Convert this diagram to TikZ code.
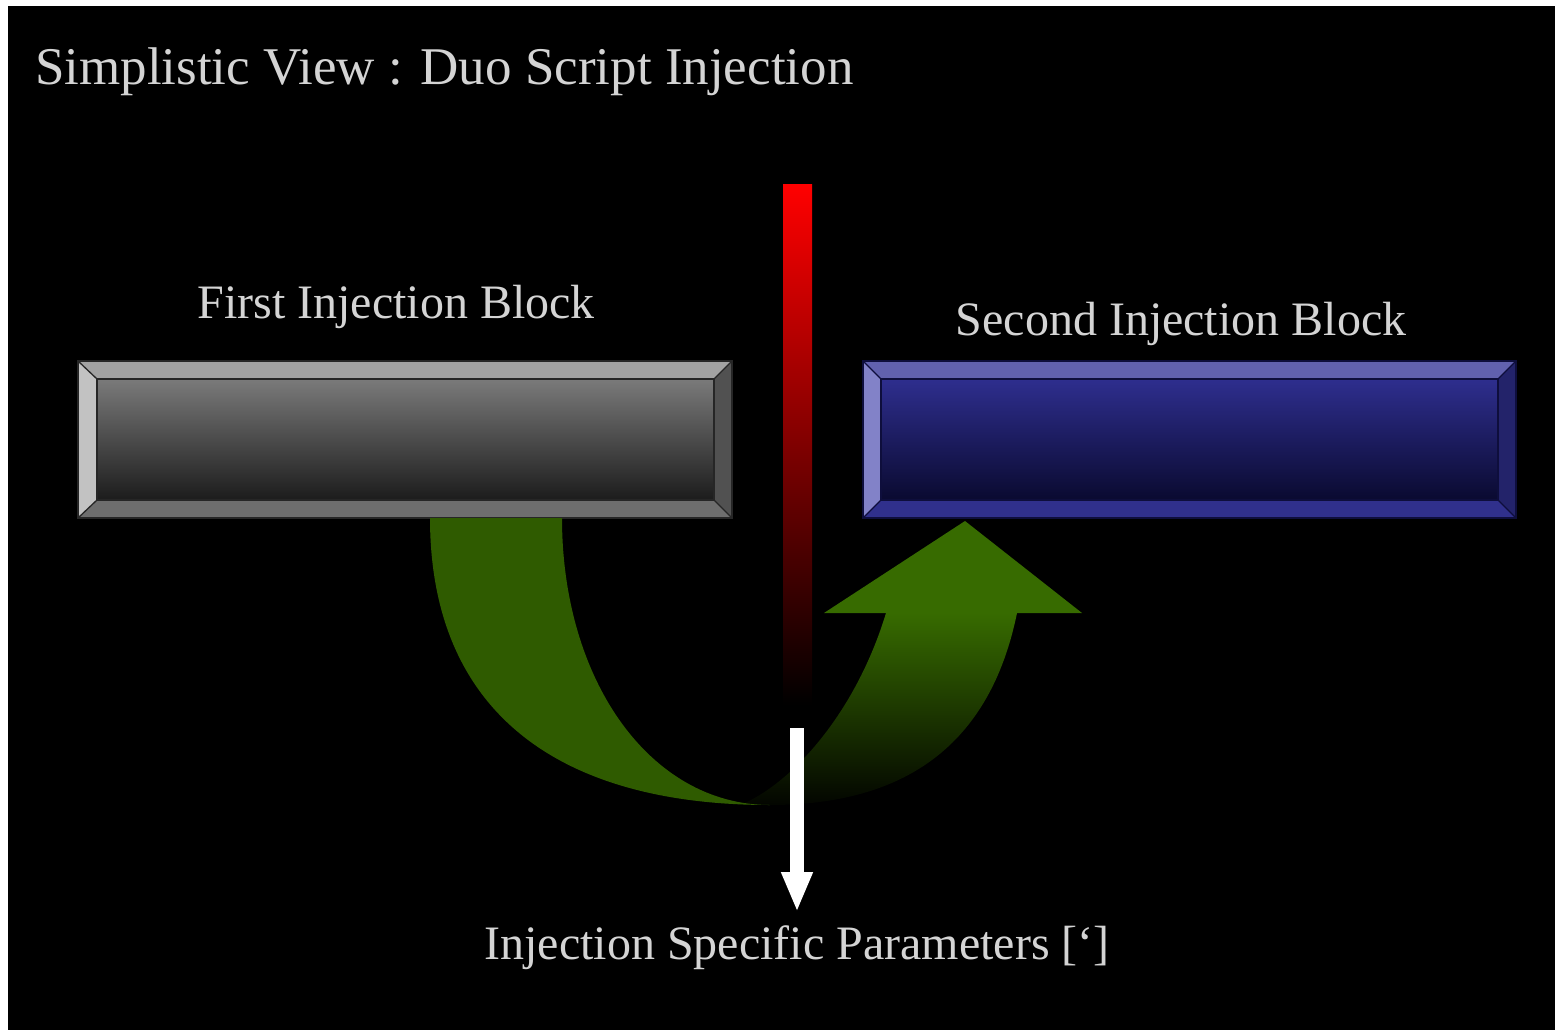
\documentclass[tikz,border=0pt]{standalone}
\usepackage{fontspec}
\setmainfont{Liberation Serif}
\usetikzlibrary{arrows.meta,calc}

\definecolor{txtgray}{HTML}{D4D4D4}
\definecolor{gTop}{HTML}{A2A2A2}
\definecolor{gLeft}{HTML}{C2C2C2}
\definecolor{gRight}{HTML}{515151}
\definecolor{gBottom}{HTML}{6E6E6E}
\definecolor{gInTop}{HTML}{7A7A7A}
\definecolor{gInMid}{HTML}{6A6A6A}
\definecolor{gInBot}{HTML}{1C1C1C}
\definecolor{bTop}{HTML}{6161AE}
\definecolor{bLeft}{HTML}{8282C8}
\definecolor{bRight}{HTML}{23236A}
\definecolor{bBottom}{HTML}{30308C}
\definecolor{bInTop}{HTML}{2E2E8E}
\definecolor{bInMid}{HTML}{272779}
\definecolor{bInBot}{HTML}{0A0A30}
\definecolor{bEdge}{HTML}{0E0E3C}
\definecolor{leafA}{HTML}{2F5B00}
\definecolor{leafB}{HTML}{376B00}
\definecolor{barRed}{HTML}{FF0000}
\definecolor{barMid}{HTML}{A00000}

\tikzset{
  lbl/.style={text=txtgray, inner sep=0pt, font=\fontsize{48}{56}\selectfont},
  edge/.style={line width=1.3pt, line join=miter},
  warrow/.style={draw=white, line width=14pt,
    -{Triangle[width=29pt,length=40pt]}, shorten >=13pt},
}

\begin{document}
\begin{tikzpicture}[x=1pt,y=-1pt]
\useasboundingbox (0,0) rectangle (1555,1030);
\fill[white] (0,0) rectangle (1555,1030);
\fill[black] (8,6) rectangle (1555,1030);

% ---- grey bevelled block ----
\fill[gTop]    (78,361) -- (732,361) -- (714,379) -- (97,379) -- cycle;
\fill[gLeft]   (78,361) -- (97,379) -- (97,500) -- (78,518) -- cycle;
\fill[gRight]  (732,361) -- (732,518) -- (714,500) -- (714,379) -- cycle;
\fill[gBottom] (78,518) -- (732,518) -- (714,500) -- (97,500) -- cycle;
\shade[top color=gInTop, middle color=gInMid, bottom color=gInBot] (97,379) rectangle (714,500);
\draw[edge, draw=black!85] (78,361) rectangle (732,518);
\draw[edge, draw=black!85] (97,379) rectangle (714,500);
\draw[edge, draw=black!85] (78,361) -- (97,379) (732,361) -- (714,379)
  (78,518) -- (97,500) (732,518) -- (714,500);

% ---- blue bevelled block ----
\fill[bTop]    (863,361) -- (1516,361) -- (1498,379) -- (881,379) -- cycle;
\fill[bLeft]   (863,361) -- (881,379) -- (881,500) -- (863,518) -- cycle;
\fill[bRight]  (1516,361) -- (1516,518) -- (1498,500) -- (1498,379) -- cycle;
\fill[bBottom] (863,518) -- (1516,518) -- (1498,500) -- (881,500) -- cycle;
\shade[top color=bInTop, middle color=bInMid, bottom color=bInBot] (881,379) rectangle (1498,500);
\draw[edge, draw=bEdge] (863,361) rectangle (1516,518);
\draw[edge, draw=bEdge] (881,379) rectangle (1498,500);
\draw[edge, draw=bEdge] (863,361) -- (881,379) (1516,361) -- (1498,379)
  (863,518) -- (881,500) (1516,518) -- (1498,500);

% ---- red separator bar ----
\shade[top color=barRed, middle color=barMid, bottom color=black] (783,184) rectangle (812,705);

% ---- curved green arrow: rising limb (fades to black) ----
\shade[top color=leafB, bottom color=black!95!leafB]
  (886,613) -- (1017,613) .. controls (990,745) and (905,805) .. (770,805)
  -- (740,805) .. controls (790,785) and (855,715) .. (886,613) -- cycle;
\fill[leafB] (824,613) -- (1082,613) -- (965,521) -- cycle;

% ---- curved green arrow: descending limb ----
\fill[leafA] (430,518) -- (562,518)
  .. controls (562,680) and (650,805) .. (770,805)
  .. controls (550,805) and (430,705) .. (430,518) -- cycle;

% ---- labels ----
\node[lbl, anchor=base west, font=\fontsize{53}{60}\selectfont] (title) at (35,85)
  {Simplistic View : Duo Script Injection};
\node[lbl, anchor=base] (first)  at (396,318)  {First Injection Block};
\node[lbl, anchor=base] (second) at (1181,335) {Second Injection Block};
\node[lbl, anchor=base] (params) at (797,959)  {Injection Specific Parameters [‘]};

% ---- white output arrow ----
\coordinate (wtop) at (797,728);
\draw[warrow] (wtop) -- (params.north);
\end{tikzpicture}
\end{document}
